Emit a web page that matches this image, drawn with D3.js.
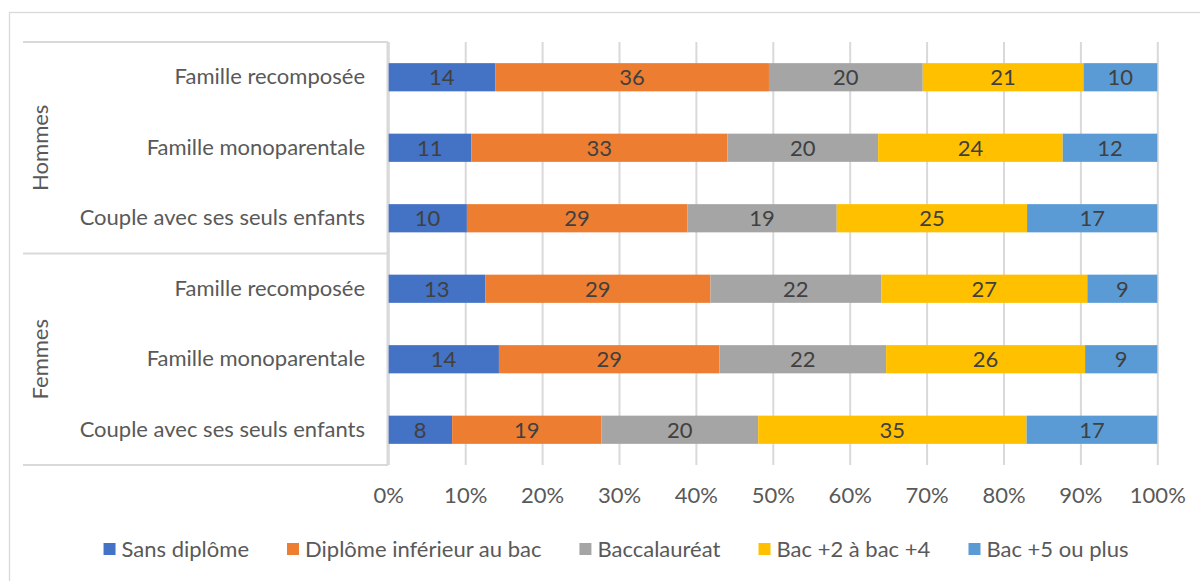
<!DOCTYPE html>
<html>
<head>
<meta charset="utf-8">
<script src="https://cdn.jsdelivr.net/npm/d3@7"></script>
<style>
  html, body { margin: 0; padding: 0; background: #fff; }
  svg { display: block; }
  text { font-family: Lato, "Open Sans", sans-serif; }
</style>
</head>
<body>
<svg id="chart" width="1200" height="581"></svg>
<script>
// ---- Data ----
const groups = ["Hommes", "Femmes"];
const categories = ["Famille recomposée", "Famille monoparentale", "Couple avec ses seuls enfants"];
const seriesNames = ["Sans diplôme", "Diplôme inférieur au bac", "Baccalauréat", "Bac +2 à bac +4", "Bac +5 ou plus"];
const seriesColors = ["#4472C4", "#ED7D31", "#A5A5A5", "#FFC000", "#5B9BD5"];
// values per row, top to bottom (Hommes rows then Femmes rows)
const sansDiplome   = [13.9, 10.8, 10.2, 12.6, 14.4, 8.3];
const inferieurBac  = [35.6, 33.3, 28.6, 29.3, 28.7, 19.4];
const baccalaureat  = [20.0, 19.6, 19.4, 22.2, 21.7, 20.4];
const bac2a4        = [20.9, 24.0, 24.7, 26.8, 25.9, 34.9];
const bac5plus      = [9.6, 12.3, 16.9, 9.1, 9.4, 17.0];
const tickValues = [0, 0.1, 0.2, 0.3, 0.4, 0.5, 0.6, 0.7, 0.8, 0.9, 1];

(function () {
// ---- Build table ----
const seriesArrays = [sansDiplome, inferieurBac, baccalaureat, bac2a4, bac5plus];
const rows = [];
groups.forEach((g, gi) => categories.forEach((c, ci) => {
  const i = gi * categories.length + ci;
  const r = { key: g + "|" + c, group: g, cat: c };
  seriesNames.forEach((s, si) => r[s] = seriesArrays[si][i]);
  rows.push(r);
}));

const stacked = d3.stack().keys(seriesNames).offset(d3.stackOffsetExpand)(rows);

const svg = d3.select("#chart");
const FS = 22;
const gridColor = "#D9D9D9";

// outer chart border
svg.append("rect").attr("x", 9.5).attr("y", 12.5).attr("width", 1300).attr("height", 700)
  .attr("fill", "none").attr("stroke", gridColor).attr("stroke-width", 1.3);

const x = d3.scaleLinear().domain([0, 1]).range([388.3, 1157.3]);
const y = d3.scaleBand().domain(rows.map(r => r.key)).range([42, 465])
  .paddingInner(0.6).paddingOuter(0.3);

// gridlines + tick labels
const xAxis = svg.append("g").attr("transform", "translate(0,465)")
  .call(d3.axisBottom(x).tickValues(tickValues).tickFormat(d3.format(".0%"))
    .tickSize(-(465 - 42)).tickPadding(22));
xAxis.select(".domain").remove();
xAxis.selectAll(".tick line").attr("stroke", gridColor).attr("stroke-width", 2);
xAxis.selectAll(".tick text").attr("fill", "#595959").style("font-size", FS + "px")
  .style("font-family", "Lato, sans-serif");

// bars
const layer = svg.append("g").selectAll("g").data(stacked).join("g")
  .attr("fill", (d, i) => seriesColors[i]);
layer.selectAll("rect").data(d => d)
  .join("rect")
  .attr("x", d => x(d[0]))
  .attr("y", d => y(d.data.key))
  .attr("width", d => x(d[1]) - x(d[0]))
  .attr("height", y.bandwidth());

// data labels
stacked.forEach((s, si) => {
  svg.append("g").selectAll("text").data(s).join("text")
    .attr("x", d => (x(d[0]) + x(d[1])) / 2)
    .attr("y", d => y(d.data.key) + y.bandwidth() / 2)
    .attr("dy", "0.36em")
    .attr("text-anchor", "middle")
    .attr("fill", "#404040")
    .style("font-size", FS + "px")
    .text(d => d3.format(".0f")(d.data[s.key]));
});

// category axis (right-aligned labels)
const yAxis = svg.append("g").attr("transform", "translate(388,0)")
  .call(d3.axisLeft(y).tickSize(0).tickPadding(23).tickFormat(k => k.split("|")[1]));
yAxis.select(".domain").remove();
yAxis.selectAll(".tick text").attr("fill", "#595959").style("font-size", FS + "px")
  .style("font-family", "Lato, sans-serif");

// category table lines
const step = y.step();
const yTop = 42, yBottom = 465;
const boundaries = [yTop];
groups.forEach((g, gi) => {
  const lastKey = g + "|" + categories[categories.length - 1];
  boundaries.push(y(lastKey) + y.bandwidth() + (step - y.bandwidth()) / 2);
});
boundaries[boundaries.length - 1] = yBottom;
const lines = svg.append("g").attr("stroke", gridColor).attr("stroke-width", 2);
boundaries.forEach(b => lines.append("line").attr("x1", 23).attr("x2", 388).attr("y1", b).attr("y2", b));
lines.append("line").attr("x1", 387.5).attr("x2", 387.5).attr("y1", yTop).attr("y2", yBottom);

// group labels
groups.forEach((g, gi) => {
  const cy = (boundaries[gi] + boundaries[gi + 1]) / 2;
  svg.append("text").attr("transform", `translate(40,${cy}) rotate(-90)`)
    .attr("text-anchor", "middle").attr("dy", "0.36em")
    .attr("fill", "#595959").style("font-size", FS + "px").text(g);
});

// legend
const legend = svg.append("g");
const items = legend.selectAll("g").data(seriesNames).join("g");
items.append("rect").attr("width", 12).attr("height", 12).attr("y", -6)
  .attr("fill", (d, i) => seriesColors[i]);
items.append("text").attr("x", 18).attr("dy", "0.36em").attr("fill", "#595959")
  .style("font-size", FS + "px").text(d => d);
let lx = 0;
const gap = 38;
items.each(function () {
  const w = this.getBBox().width;
  d3.select(this).attr("transform", `translate(${lx},549)`);
  lx += w + gap;
});
const total = lx - gap;
legend.attr("transform", `translate(${(1232 - total) / 2},0)`);
})();
</script>
</body>
</html>
